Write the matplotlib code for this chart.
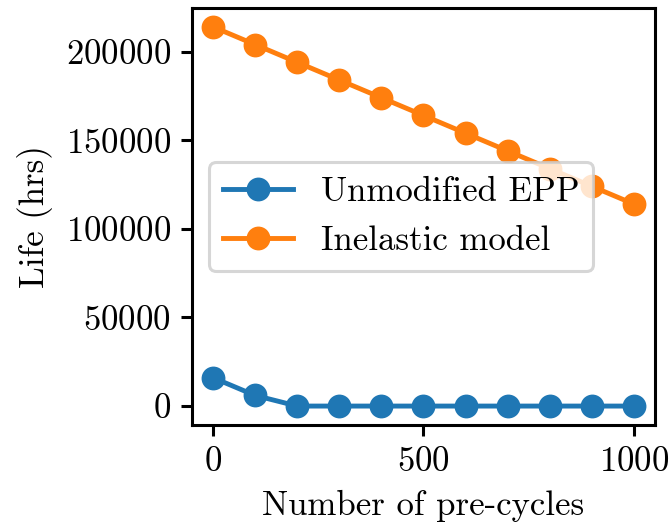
import matplotlib
matplotlib.use("Agg")
import matplotlib.pyplot as plt

# pre-cycles vs life
pre_cycles = [0, 100, 200, 300, 400, 500, 600, 700, 800, 900, 1000]
life_epp = [16000, 6000, 0, 0, 0, 0, 0, 0, 0, 0, 0]
life_inelastic = [214000, 204000, 194000, 184000, 174000, 164000,
                  154000, 144000, 134000, 124000, 114000]

plt.rcParams['font.family'] = 'serif'
plt.rcParams['font.serif'] = ['cmr10', 'DejaVu Serif']
plt.rcParams['mathtext.fontset'] = 'cm'
plt.rcParams['axes.formatter.use_mathtext'] = True
plt.rcParams['font.size'] = 11.4
plt.rcParams['axes.linewidth'] = 1.0
plt.rcParams['xtick.major.width'] = 1.0
plt.rcParams['ytick.major.width'] = 1.0
plt.rcParams['lines.markersize'] = 6.8
plt.rcParams['lines.linewidth'] = 1.6

fig = plt.figure(figsize=(669/220, 527/220), dpi=220)
ax = fig.add_axes([0.287, 0.1935, 0.692, 0.7915])

ax.plot(pre_cycles, life_epp, 'o-', color='#1f77b4', label='Unmodified EPP')
ax.plot(pre_cycles, life_inelastic, 'o-', color='#ff7f0e', label='Inelastic model')

ax.set_xlabel('Number of pre-cycles')
ax.set_ylabel('Life (hrs)')
ax.set_xticks([0, 500, 1000])
ax.set_yticks([0, 50000, 100000, 150000, 200000])
ax.legend(loc='center left')

fig.savefig('out.png', dpi=220)
